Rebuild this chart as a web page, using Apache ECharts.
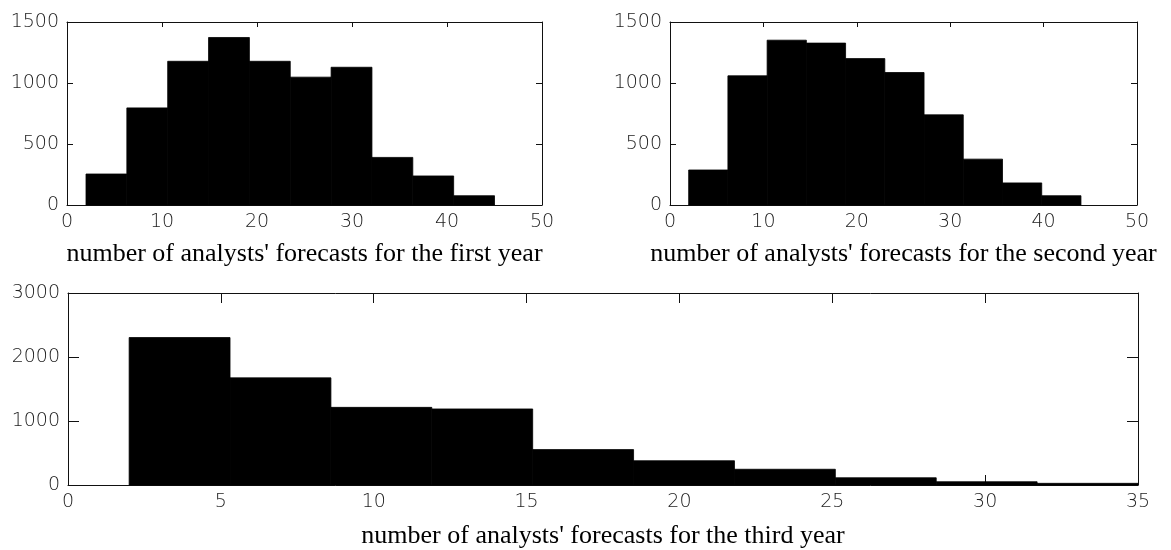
<!DOCTYPE html>
<html>
<head>
<meta charset="utf-8">
<script src="https://cdn.jsdelivr.net/npm/echarts@6/dist/echarts.min.js"></script>
<style>
html,body{margin:0;padding:0;background:#fff;}
#chart{width:1171px;height:550px;}
</style>
</head>
<body>
<div id="chart"></div>
<script>
// Bin edges and counts
var edges1 = [2, 6.3, 10.6, 14.9, 19.2, 23.5, 27.8, 32.1, 36.4, 40.7, 45];
var counts1 = [254, 796, 1178, 1373, 1178, 1048, 1129, 390, 238, 76];

var edges2 = [2, 6.2, 10.4, 14.6, 18.8, 23, 27.2, 31.4, 35.6, 39.8, 44];
var counts2 = [287, 1059, 1351, 1327, 1200, 1086, 739, 376, 181, 76];

var edges3 = [2, 5.3, 8.6, 11.9, 15.2, 18.5, 21.8, 25.1, 28.4, 31.7, 35];
var counts3 = [2304, 1674, 1213, 1188, 553, 379, 246, 113, 51, 26];

var titles = [
  "number of analysts' forecasts for the first year",
  "number of analysts' forecasts for the second year",
  "number of analysts' forecasts for the third year"
];
var xTicks12 = [0, 10, 20, 30, 40, 50];
var yTicks12 = [0, 500, 1000, 1500];
var xTicks3 = [0, 5, 10, 15, 20, 25, 30, 35];
var yTicks3 = [0, 1000, 2000, 3000];

function toData(edges, counts) {
  var d = [];
  for (var i = 0; i < counts.length; i++) d.push([edges[i], edges[i + 1], counts[i]]);
  return d;
}

var lineCol = '#111';
function plain(v) { return String(v); }
var labelStyle = {color: '#222', fontFamily: 'DejaVu Sans', fontSize: 19, fontWeight: 200, formatter: plain};
var nameStyle = {color: '#000', fontFamily: 'Liberation Serif', fontSize: 26};

function xAxes(gi, ticks, tickLen, title, gap) {
  var min = ticks[0], max = ticks[ticks.length - 1], iv = ticks[1] - ticks[0];
  var base = {
    type: 'value', gridIndex: gi, min: min, max: max, interval: iv,
    axisLine: {show: true, onZero: false, lineStyle: {color: lineCol, width: 1}},
    axisTick: {show: true, inside: true, length: tickLen, lineStyle: {color: lineCol}},
    splitLine: {show: false}
  };
  var bottom = Object.assign({}, base, {
    position: 'bottom',
    axisLabel: Object.assign({margin: 8}, labelStyle),
    name: title, nameLocation: 'middle', nameGap: gap, nameTextStyle: nameStyle
  });
  var top = Object.assign({}, base, {position: 'top', axisLabel: {show: false}});
  return [bottom, top];
}
function yAxes(gi, ticks, tickLen) {
  var min = ticks[0], max = ticks[ticks.length - 1], iv = ticks[1] - ticks[0];
  var base = {
    type: 'value', gridIndex: gi, min: min, max: max, interval: iv,
    axisLine: {show: true, onZero: false, lineStyle: {color: lineCol, width: 1}},
    axisTick: {show: true, inside: true, length: tickLen, lineStyle: {color: lineCol}},
    splitLine: {show: false}
  };
  var left = Object.assign({}, base, {position: 'left', axisLabel: Object.assign({margin: 8}, labelStyle)});
  var right = Object.assign({}, base, {position: 'right', axisLabel: {show: false}});
  return [left, right];
}

function renderBar(params, api) {
  var x0 = api.value(0), x1 = api.value(1), y = api.value(2);
  var p0 = api.coord([x0, y]);
  var p1 = api.coord([x1, 0]);
  return {
    type: 'rect',
    shape: {x: p0[0], y: p0[1], width: p1[0] - p0[0], height: p1[1] - p0[1]},
    style: {fill: '#000', stroke: '#000', lineWidth: 0.8}
  };
}

var chart = echarts.init(document.getElementById('chart'), null, {renderer: 'canvas'});
var option = {
  animation: false,
  backgroundColor: '#fff',
  grid: [
    {left: 67, top: 22, width: 475, height: 183},
    {left: 670, top: 22, width: 467, height: 183},
    {left: 68, top: 293, width: 1070, height: 195}
  ],
  xAxis: [].concat(
    xAxes(0, xTicks12, 5, titles[0], 36),
    xAxes(1, xTicks12, 5, titles[1], 36),
    xAxes(2, xTicks3, 10, titles[2], 38)
  ),
  yAxis: [].concat(
    yAxes(0, yTicks12, 6),
    yAxes(1, yTicks12, 6),
    yAxes(2, yTicks3, 11)
  ),
  series: [
    {type: 'custom', xAxisIndex: 0, yAxisIndex: 0, renderItem: renderBar,
     encode: {x: [0, 1], y: 2}, data: toData(edges1, counts1), z: 3},
    {type: 'custom', xAxisIndex: 2, yAxisIndex: 2, renderItem: renderBar,
     encode: {x: [0, 1], y: 2}, data: toData(edges2, counts2), z: 3},
    {type: 'custom', xAxisIndex: 4, yAxisIndex: 4, renderItem: renderBar,
     encode: {x: [0, 1], y: 2}, data: toData(edges3, counts3), z: 3}
  ]
};
chart.setOption(option);
</script>
</body>
</html>
